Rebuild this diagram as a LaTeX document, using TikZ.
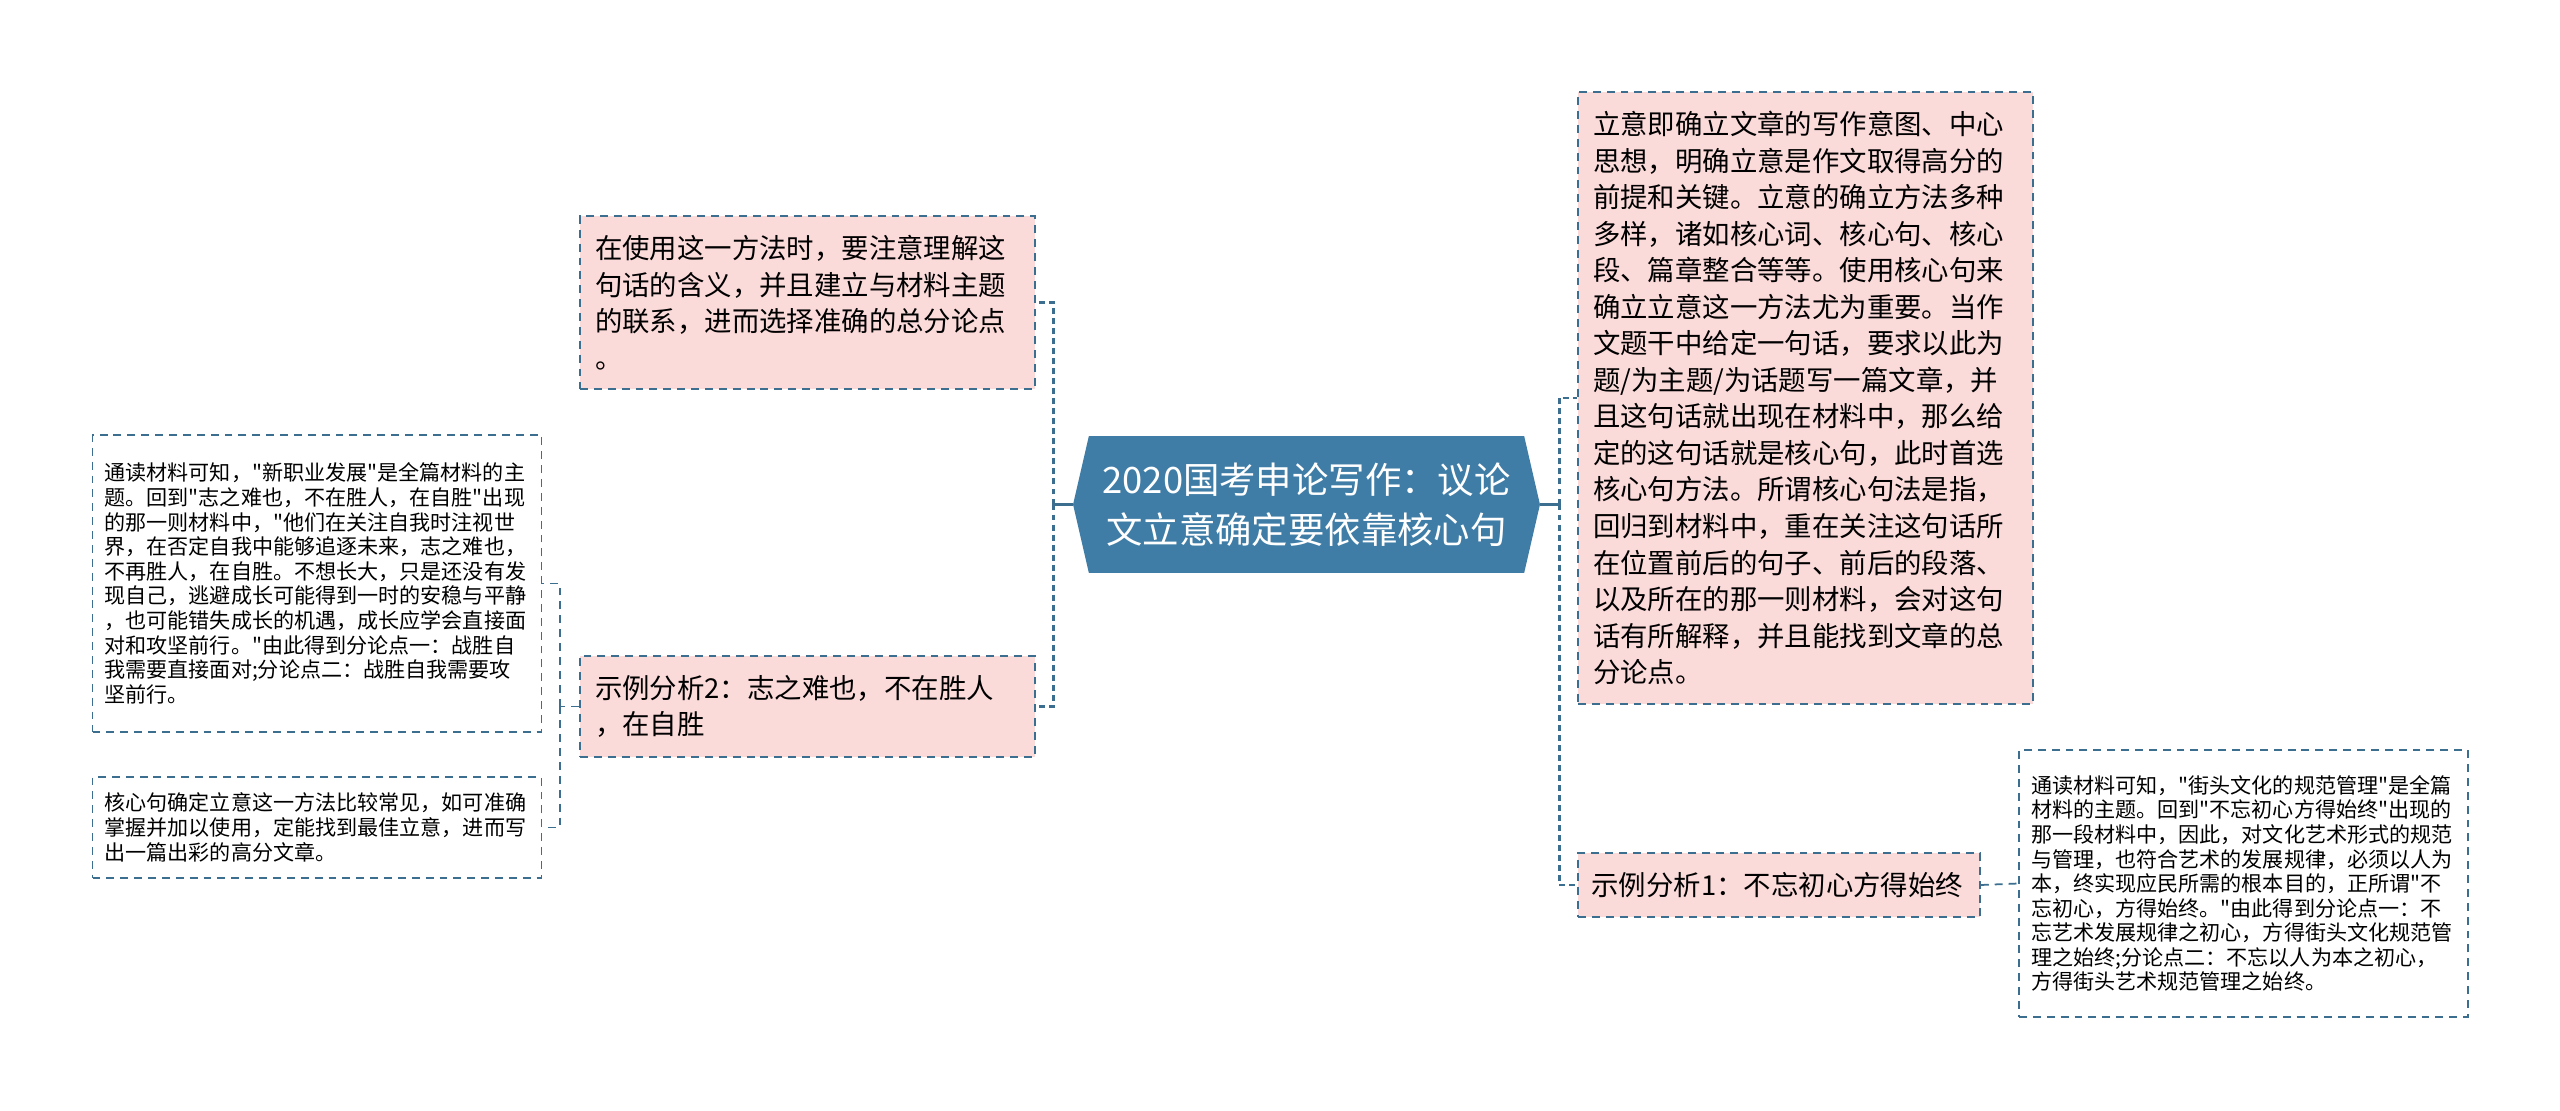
\documentclass[tikz,border=0pt]{standalone}
\usepackage{fontspec}
\setmainfont{Noto Sans CJK SC}[Ligatures=TeXOff]
\usetikzlibrary{shapes.symbols}
\definecolor{rootblue}{HTML}{3F7DA6}
\definecolor{linkblue}{HTML}{3B6E8F}
\definecolor{pinkfill}{HTML}{FBDADA}
\begin{document}
\begin{tikzpicture}[
    x=0.02cm, y=-0.02cm,
    topic/.style={signal, signal to=west and east, signal pointer angle=154, fill=rootblue, text=white, minimum width=9.34cm, minimum height=2.74cm, inner sep=0pt, align=center, font=\fontsize{20.7pt}{28.5pt}\selectfont},
    card/.style={rectangle, draw=linkblue, dash pattern=on 4.5pt off 3.4pt, line width=1pt, fill=pinkfill, text width=8.5cm, inner xsep=0.3cm, align=left, font=\fontsize{15.6pt}{20.8pt}\selectfont},
    note/.style={rectangle, draw=linkblue, dash pattern=on 4.5pt off 3.4pt, line width=1pt, fill=white, text width=8.5cm, inner xsep=0.24cm, align=left, font=\fontsize{12pt}{14pt}\selectfont},
    stem/.style={draw=linkblue, line width=1.5pt},
    branch/.style={draw=linkblue, line width=1.7pt, dash pattern=on 3.4pt off 2.3pt},
    twig/.style={draw=linkblue, line width=1pt, dash pattern=on 4.5pt off 3.4pt}
]
\useasboundingbox (0,0) rectangle (2560,1111);

\node[topic] (root) at (1306.5,504.5) {2020国考申论写作：议论\\文立意确定要依靠核心句};

\node[card, minimum height=3.46cm] (method) at (807.5,302.5) {在使用这一方法时，要注意理解这\\句话的含义，并且建立与材料主题\\的联系，进而选择准确的总分论点\\。};
\node[card, minimum height=2.02cm] (example2) at (807.5,706.5) {示例分析2：志之难也，不在胜人\\，在自胜};
\node[note, minimum height=5.94cm] (detail2) at (317,583.5) {通读材料可知，"新职业发展"是全篇材料的主\\题。回到"志之难也，不在胜人，在自胜"出现\\的那一则材料中，"他们在关注自我时注视世\\界，在否定自我中能够追逐未来，志之难也，\\不再胜人，在自胜。不想长大，只是还没有发\\现自己，逃避成长可能得到一时的安稳与平静\\，也可能错失成长的机遇，成长应学会直接面\\对和攻坚前行。"由此得到分论点一：战胜自\\我需要直接面对;分论点二：战胜自我需要攻\\坚前行。};
\node[note, minimum height=2.02cm] (summary) at (317,827.5) {核心句确定立意这一方法比较常见，如可准确\\掌握并加以使用，定能找到最佳立意，进而写\\出一篇出彩的高分文章。};

\node[card, minimum height=12.24cm] (intro) at (1805.5,398) {立意即确立文章的写作意图、中心\\思想，明确立意是作文取得高分的\\前提和关键。立意的确立方法多种\\多样，诸如核心词、核心句、核心\\段、篇章整合等等。使用核心句来\\确立立意这一方法尤为重要。当作\\文题干中给定一句话，要求以此为\\题/为主题/为话题写一篇文章，并\\且这句话就出现在材料中，那么给\\定的这句话就是核心句，此时首选\\核心句方法。所谓核心句法是指，\\回归到材料中，重在关注这句话所\\在位置前后的句子、前后的段落、\\以及所在的那一则材料，会对这句\\话有所解释，并且能找到文章的总\\分论点。};
\node[card, text width=7.5cm, inner xsep=0.27cm, minimum height=1.28cm] (example1) at (1779,885) {示例分析1：不忘初心方得始终};
\node[note, minimum height=5.34cm] (detail1) at (2243.5,883.5) {通读材料可知，"街头文化的规范管理"是全篇\\材料的主题。回到"不忘初心方得始终"出现的\\那一段材料中，因此，对文化艺术形式的规范\\与管理，也符合艺术的发展规律，必须以人为\\本，终实现应民所需的根本目的，正所谓"不\\忘初心，方得始终。"由此得到分论点一：不\\忘艺术发展规律之初心，方得街头文化规范管\\理之始终;分论点二：不忘以人为本之初心，\\方得街头艺术规范管理之始终。};

\coordinate (lhub) at (1053,504.5);
\coordinate (rhub) at (1559,504.5);
\coordinate (shub) at (560,706.5);

\draw[stem] (root.west) -- (lhub);
\draw[branch] (lhub) |- (method.east);
\draw[branch] (lhub) |- (example2.east);
\draw[twig] (example2.west) -- (shub);
\draw[twig] (shub) |- (detail2.east);
\draw[twig] (shub) |- (summary.east);

\draw[stem] (root.east) -- (rhub);
\draw[branch] (rhub) |- (intro.west);
\draw[branch] (rhub) |- (example1.west);
\draw[twig] (example1.east) -- (detail1.west);

\end{tikzpicture}
\end{document}
